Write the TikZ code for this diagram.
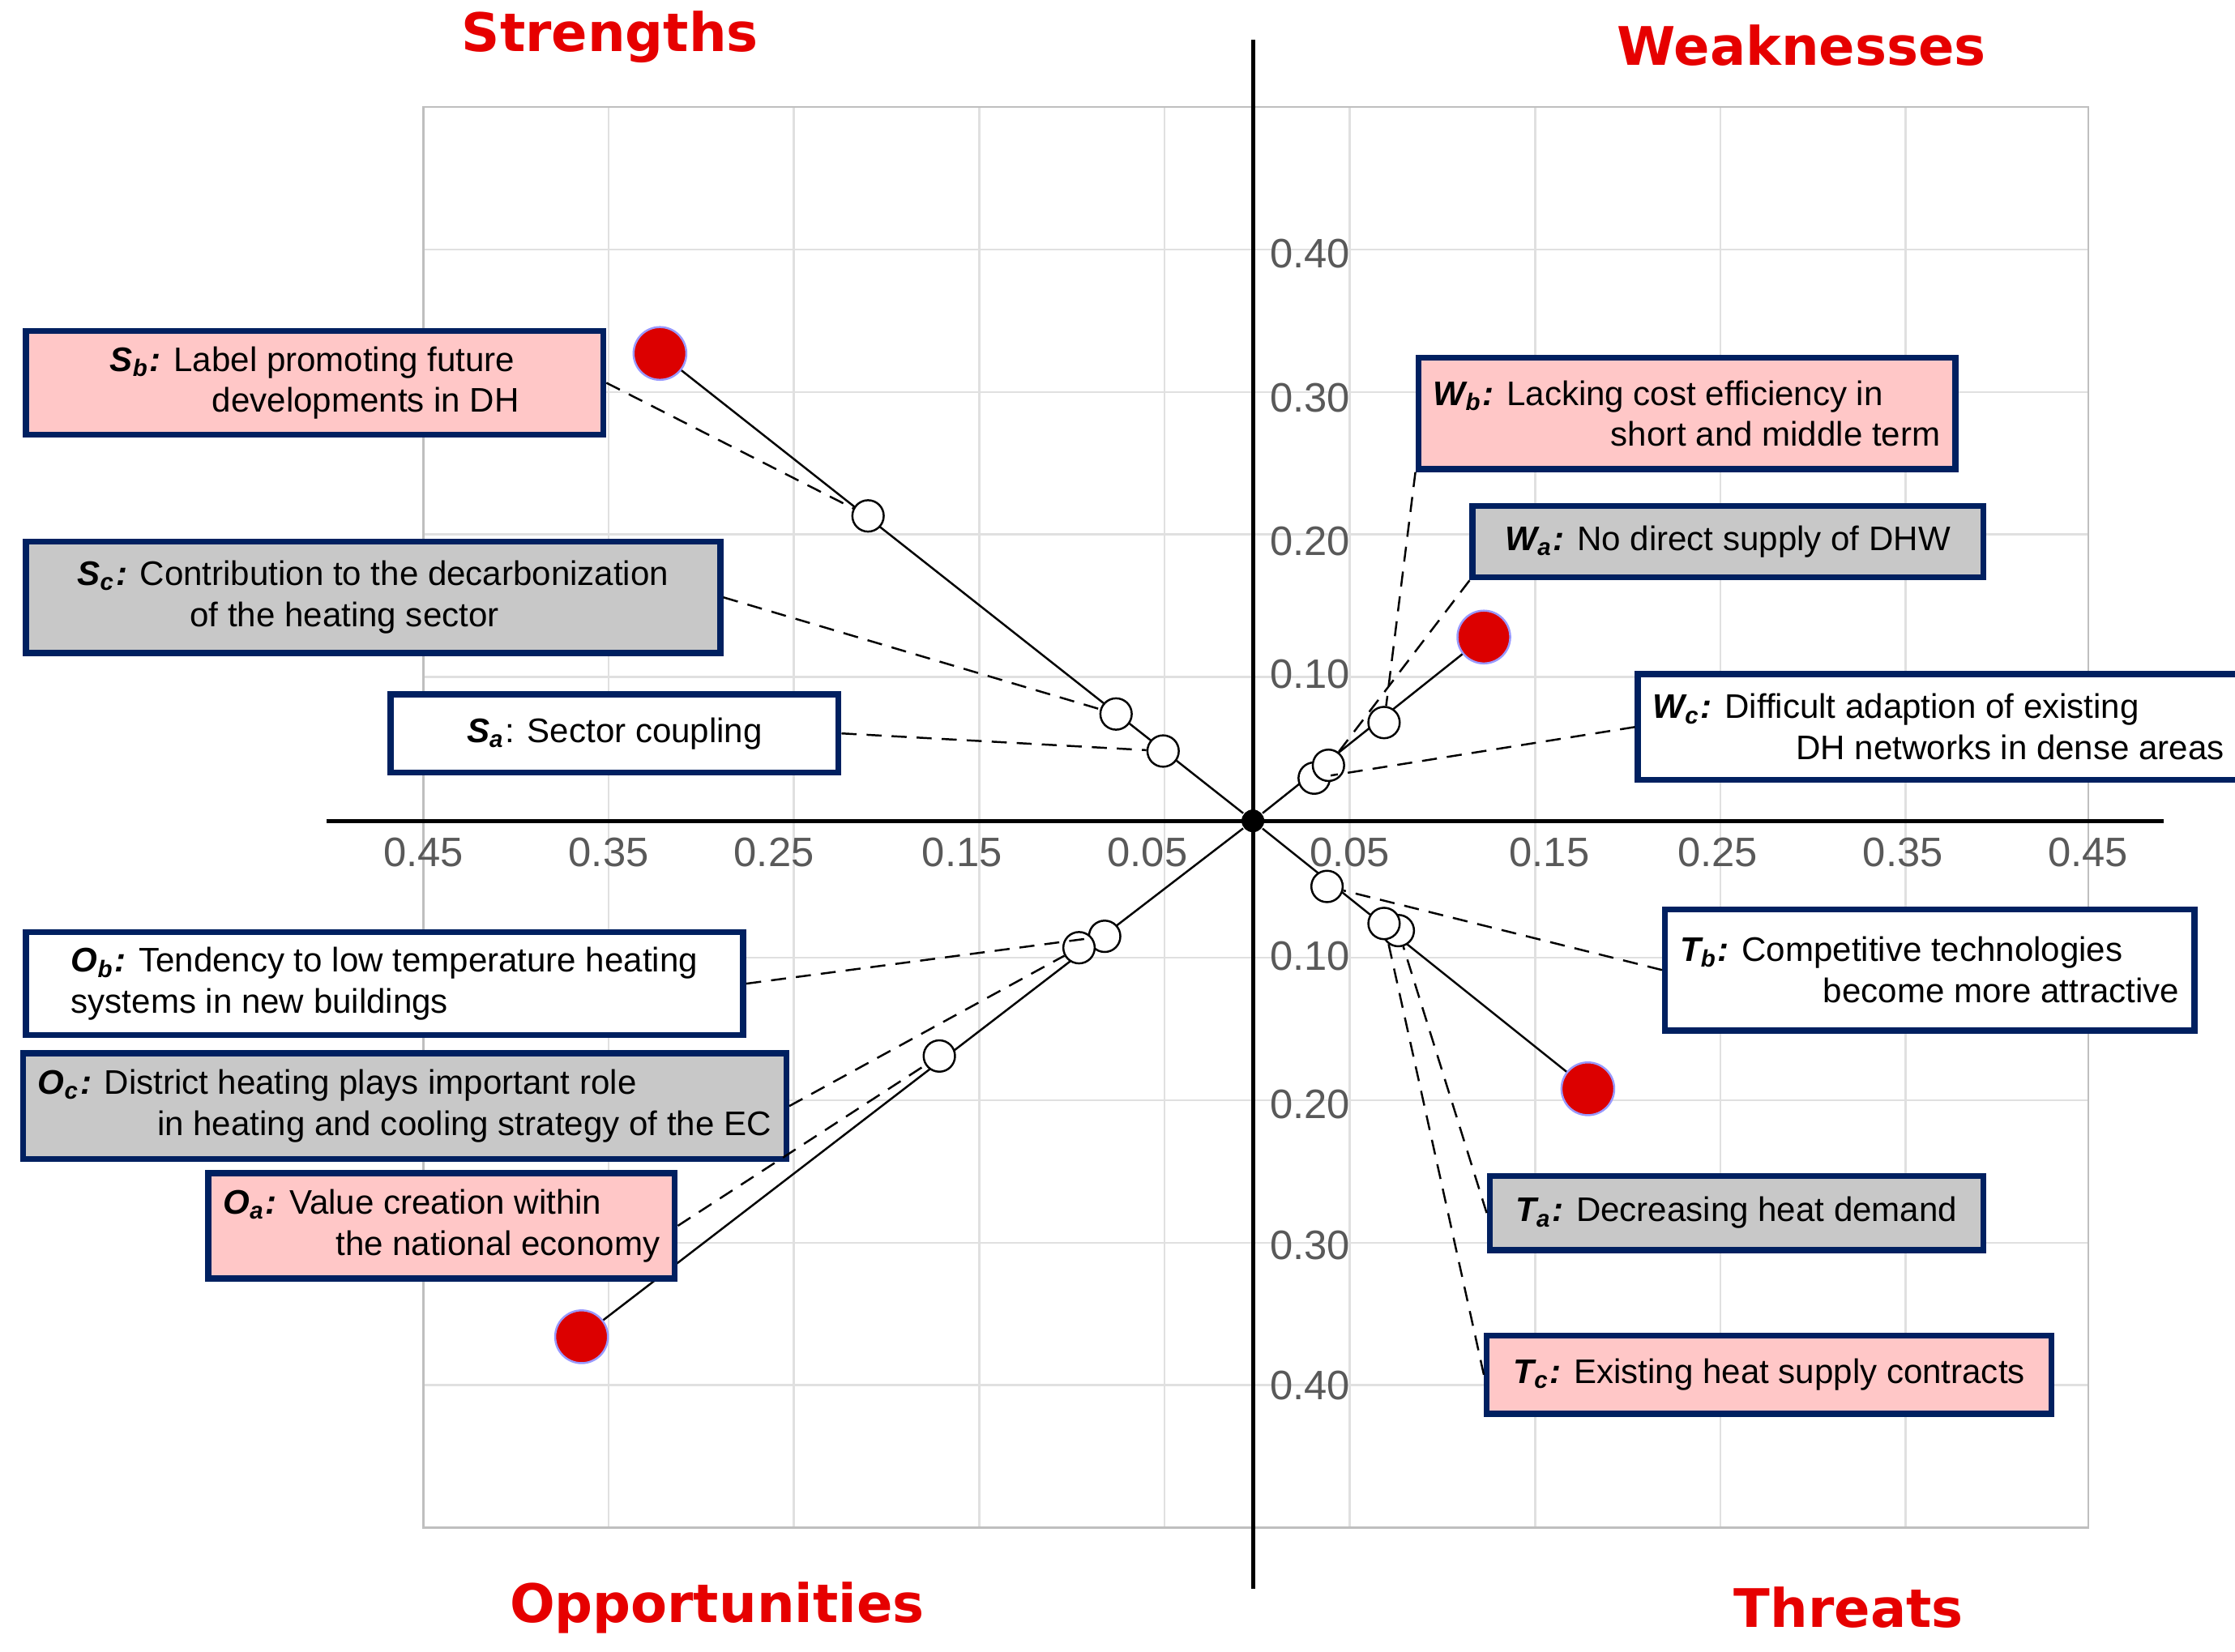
\documentclass[tikz,border=0pt]{standalone}
\usepackage{fontspec}
\setmainfont{Liberation Sans}
\newfontfamily\headfont{DejaVu Sans}
\definecolor{boxblue}{RGB}{0,32,96}
\definecolor{boxpink}{RGB}{255,199,199}
\definecolor{boxgray}{RGB}{200,200,200}
\definecolor{headred}{RGB}{230,0,0}
\definecolor{dotred}{RGB}{220,0,0}
\tikzset{
	lbl/.style={draw=boxblue,line width=1.2pt,inner sep=3pt,align=left,font=\fontsize{6.8}{8.2}\selectfont,anchor=north west},
	open/.style={circle,draw,fill=white,minimum size=0.22cm,inner sep=0pt},
	full/.style={circle,draw=blue!40,fill=dotred,minimum size=0.37cm,inner sep=0pt},
	head/.style={font=\headfont\bfseries\fontsize{10.6}{12}\selectfont,text=headred},
	tick/.style={font=\fontsize{8.2}{9}\selectfont,text=black!65},
	lead/.style={densely dashed,thin}
}
\begin{document}
\begin{tikzpicture}[x=0.01cm,y=-0.01cm]
			\useasboundingbox (0,0) rectangle (1568,1159);
			\fill[white] (0,0) rectangle (1568,1159);
			% grid
			\foreach \x in {297,427,557,687,817,947,1077,1207,1337,1465} {
				\draw[black!12] (\x,75) -- (\x,1072);
			}
			\foreach \y in {75,175,275,375,475,672,772,872,972,1072} {
				\draw[black!12] (297,\y) -- (1465,\y);
			}
			\draw[black!25] (297,75) rectangle (1465,1072);
			% axes
			\draw[thick] (229,576) -- (1518,576);
			\draw[thick] (879,28) -- (879,1115);
			\node[circle,fill,inner sep=1.6pt] (o) at (879,576) {};
			\foreach \x/\t in {297/0.45,427/0.35,543/0.25,675/0.15,805/0.05,947/0.05,1087/0.15,1205/0.25,1335/0.35,1465/0.45} {
				\node[tick] at (\x,598) {\t};
			}
			\foreach \y/\t in {178/0.40,279/0.30,380/0.20,473/0.10,671/0.10,775/0.20,874/0.30,972/0.40} {
				\node[tick] at (919,\y) {\t};
			}
			% headings
			\node[head] at (428,26) {Strengths};
			\node[head] at (1264,32) {Weaknesses};
			\node[head] at (503,1128) {Opportunities};
			\node[head] at (1297,1128) {Threats};
			% quadrant lines
			\draw (o) -- (463,248);
			\draw (o) -- (1041,447);
			\draw (o) -- (408,938);
			\draw (o) -- (1114,764);
			% points
			\node[open] (s1) at (609,362) {};
			\node[open] (s2) at (783,501) {};
			\node[open] (s3) at (816,527) {};
			\node[open] (w1) at (922,546) {};
			\node[open] (w2) at (932,537) {};
			\node[open] (w3) at (971,507) {};
			\node[open] (o1) at (775,657) {};
			\node[open] (o2) at (757,665) {};
			\node[open] (o3) at (659,741) {};
			\node[open] (t1) at (931,622) {};
			\node[open] (t3) at (981,653) {};
			\node[open] (t2) at (971,648) {};
			\node[full] (s0) at (463,248) {};
			\node[full] (w0) at (1041,447) {};
			\node[full] (o0) at (408,938) {};
			\node[full] (t0) at (1114,764) {};
			% labels
			\node[lbl,fill=boxpink,minimum width=4.05cm,minimum height=0.73cm] (sb) at (16,230) {\textbf{\textit{S\textsubscript{b}:}} Label promoting future\\\hspace{3em}developments in DH};
			\node[lbl,fill=boxgray,minimum width=4.87cm,minimum height=0.78cm] (sc) at (16,378) {\textbf{\textit{S\textsubscript{c}:}} Contribution to the decarbonization\\\hspace{3.3em}of the heating sector};
			\node[lbl,fill=white,minimum width=3.14cm,minimum height=0.55cm] (sa) at (272,485) {\textbf{\textit{S\textsubscript{a}}}: Sector coupling};
			\node[lbl,fill=white,minimum width=5.03cm,minimum height=0.70cm] (ob) at (16,652) {\textbf{\textit{O\textsubscript{b}:}} Tendency to low temperature heating\\systems in new buildings};
			\node[lbl,fill=boxgray,minimum width=5.18cm,minimum height=0.74cm] (oc) at (14,737) {\textbf{\textit{O\textsubscript{c}:}} District heating plays important role\\\hspace{3.5em}in heating and cooling strategy of the EC};
			\node[lbl,fill=boxpink,minimum width=3.07cm,minimum height=0.74cm] (oa) at (144,821) {\textbf{\textit{O\textsubscript{a}:}} Value creation within\\\hspace{3.3em}the national economy};
			\node[lbl,fill=boxpink,minimum width=3.50cm,minimum height=0.78cm] (wb) at (993,249) {\textbf{\textit{W\textsubscript{b}:}} Lacking cost efficiency in\\\hspace{5.2em}short and middle term};
			\node[lbl,fill=boxgray,minimum width=3.58cm,minimum height=0.50cm] (wa) at (1031,353) {\textbf{\textit{W\textsubscript{a}:}} No direct supply of DHW};
			\node[lbl,fill=white,minimum width=4.09cm,minimum height=0.74cm] (wc) at (1147,471) {\textbf{\textit{W\textsubscript{c}:}} Difficult adaption of existing\\\hspace{4.2em}DH networks in dense areas};
			\node[lbl,fill=white,minimum width=3.59cm,minimum height=0.85cm] (tb) at (1166,636) {\textbf{\textit{T\textsubscript{b}:}} Competitive technologies\\\hspace{4.2em}become more attractive};
			\node[lbl,fill=boxgray,minimum width=3.46cm,minimum height=0.52cm] (ta) at (1043,823) {\textbf{\textit{T\textsubscript{a}:}} Decreasing heat demand};
			\node[lbl,fill=boxpink,minimum width=3.96cm,minimum height=0.55cm] (tc) at (1041,935) {\textbf{\textit{T\textsubscript{c}:}} Existing heat supply contracts};
			% leaders
			\draw[lead] (sb.east) -- (s1);
			\draw[lead] (sc.east) -- (s2);
			\draw[lead] (sa.east) -- (s3);
			\draw[lead] (ob.east) -- (o1);
			\draw[lead] (oc.east) -- (o2);
			\draw[lead] (oa.east) -- (o3);
			\draw[lead] (wb.south west) -- (w3);
			\draw[lead] (wa.south west) -- (w2);
			\draw[lead] (wc.west) -- (w1);
			\draw[lead] (tb.west) -- (t1);
			\draw[lead] (ta.west) -- (t3);
			\draw[lead] (tc.west) -- (t2);
	\end{tikzpicture}
\end{document}
